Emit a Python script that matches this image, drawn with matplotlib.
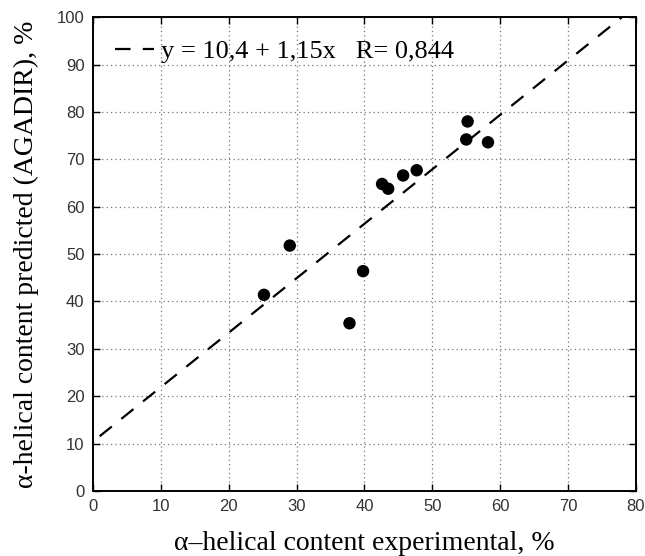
import numpy as np
import matplotlib.pyplot as plt

# experimental vs predicted helical content (%)
exp_vals = [25.2, 29.0, 37.8, 39.8, 42.6, 43.5, 45.7, 47.7, 55.0, 55.2, 58.2]
pred_vals = [41.4, 51.8, 35.4, 46.4, 64.8, 63.8, 66.6, 67.7, 74.2, 78.0, 73.6]

# regression line y = a + b x
fit_a = 10.4
fit_b = 1.15
fit_x = [1.0, 78.0]
fit_label = 'y = 10,4 + 1,15x   R= 0,844'

x_ticks = [0, 10, 20, 30, 40, 50, 60, 70, 80]
y_ticks = [0, 10, 20, 30, 40, 50, 60, 70, 80, 90, 100]

fig = plt.figure(figsize=(6.45, 5.56), dpi=100)
ax = fig.add_axes([0.144, 0.117, 0.842, 0.852])

fx = np.array(fit_x)
ax.plot(fx, fit_a + fit_b * fx, color='black', linestyle=(0, (7, 5.5)),
        linewidth=1.6, label=fit_label, zorder=2)
ax.scatter(exp_vals, pred_vals, s=80, color='black', edgecolors='none', zorder=3)

ax.set_xlim(0, 80)
ax.set_ylim(0, 100)
ax.set_xticks(x_ticks)
ax.set_yticks(y_ticks)
ax.grid(True, color='#777777', linestyle=(0, (1, 2.5)), linewidth=0.9)
ax.tick_params(direction='in', top=True, right=True, length=5, width=1,
               labelsize=12, pad=6)
for lab in ax.get_xticklabels() + ax.get_yticklabels():
    lab.set_family('Liberation Sans')
    lab.set_color('#333333')
for sp in ax.spines.values():
    sp.set_linewidth(1.4)

ax.set_xlabel('α–helical content experimental, %', family='Liberation Serif',
              fontsize=20, labelpad=12)
ax.set_ylabel('α-helical content predicted (AGADIR), %', family='Liberation Serif',
              fontsize=20, labelpad=13)

leg = ax.legend(loc='upper left', frameon=False, handlelength=1.45,
                handletextpad=0.3, borderaxespad=0.45,
                prop={'family': 'Liberation Serif', 'size': 19})

plt.savefig('out.png', dpi=100)
